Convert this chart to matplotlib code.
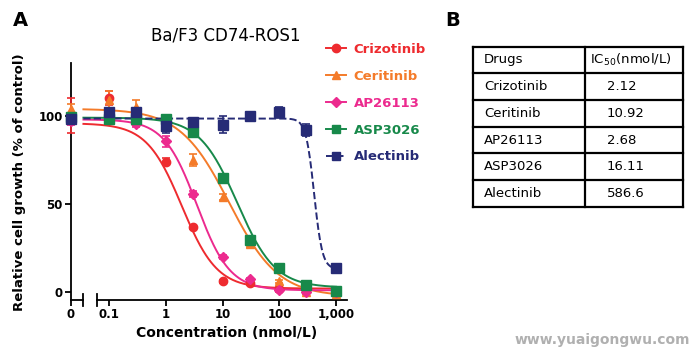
import numpy as np
import matplotlib
matplotlib.use('Agg')
import matplotlib.pyplot as plt
from matplotlib.lines import Line2D

plt.rcParams['font.family'] = ['DejaVu Sans']
plt.rcParams['mathtext.fontset'] = 'dejavusans'

# concentrations (nmol/L); first point is the untreated control (0)
conc = [0, 0.1, 0.3, 1, 3, 10, 30, 100, 300, 1000]

drugs = ['Crizotinib', 'Ceritinib', 'AP26113', 'ASP3026', 'Alectinib']
colors = ['#ee2b2f', '#f47b2a', '#ec2a8e', '#17894a', '#262b76']
markers = ['o', '^', 'D', 's', 's']

crizotinib = [100, 110, 97, 74, 37, 6, 5, 2, 1, 0]
ceritinib = [104, 109, 105, 95, 75, 54, 27, 6, 0, -1]
ap26113 = [97, 98, 95.5, 85.5, 55.7, 20, 7.2, 1, 0, 0]
asp3026 = [99.5, 98.5, 98.3, 98.3, 91, 64.6, 29.5, 13.4, 4, 0.8]
alectinib = [98, 102, 102, 94, 96.8, 95, 100, 102, 92, 13.8]

crizotinib_err = [10, 4, 2, 2, 1, 1, 1, 1, 1, 1]
ceritinib_err = [3, 5, 4, 2, 3.5, 1.5, 1.5, 1, 1, 1]
ap26113_err = [2, 2, 2, 3, 1.5, 1, 1, 1, 1, 1]
asp3026_err = [2, 1, 1, 1, 1.5, 1.5, 1.5, 1, 1, 1]
alectinib_err = [2, 2, 2, 4, 2, 5, 2, 3, 3.5, 1]

# fitted 4-parameter logistic curves: top, bottom, midpoint, hill slope
fit_top = [95.8, 104, 98, 99, 98.5]
fit_bottom = [2, -2.5, 1, 2.5, 13]
fit_mid = [1.9, 13, 3.5, 18, 410]
fit_hill = [1.4, 1.0, 1.5, 1.3, 6.0]

ic50 = ['2.12', '10.92', '2.68', '16.11', '586.6']

series = [crizotinib, ceritinib, ap26113, asp3026, alectinib]
errs = [crizotinib_err, ceritinib_err, ap26113_err, asp3026_err, alectinib_err]

W, H = 695, 351
fig = plt.figure(figsize=(W / 100, H / 100), dpi=100)

def box(x0, y0, x1, y1):
    return [x0 / W, 1 - y1 / H, (x1 - x0) / W, (y1 - y0) / H]

axL = fig.add_axes(box(71, 63, 83, 300))
axR = fig.add_axes(box(96.7, 63, 346.7, 300))
ylim = (-4.5, 130)

for ax in (axL, axR):
    ax.set_ylim(ylim)
    ax.spines['top'].set_visible(False)
    ax.spines['right'].set_visible(False)
    ax.spines['bottom'].set_linewidth(1.3)
    ax.spines['left'].set_linewidth(1.3)
    ax.patch.set_alpha(0)

axL.set_xlim(0, 1)
axL.set_xticks([0])
axL.set_xticklabels(['0'])
axL.set_yticks([0, 50, 100])
axL.set_yticklabels(['0', '50', '100'])
axL.tick_params(length=4, width=1.3, labelsize=8.5, pad=2)
for t in axL.get_xticklabels() + axL.get_yticklabels():
    t.set_fontweight('bold')

axR.set_xscale('log')
axR.set_xlim(0.06, 1538)
axR.spines['left'].set_visible(False)
axR.set_yticks([])
axR.set_xticks([0.1, 1, 10, 100, 1000])
axR.set_xticklabels(['0.1', '1', '10', '100', '1,000'])
axR.minorticks_off()
axR.tick_params(axis='x', length=4, width=1.3, labelsize=8.5, pad=2)
for t in axR.get_xticklabels():
    t.set_fontweight('bold')

# break marks
axL.plot([1, 1], [-0.025, 0.025], color='black', lw=1.3,
         transform=axL.get_xaxis_transform(), clip_on=False)
axR.plot([0.06, 0.06], [-0.025, 0.025], color='black', lw=1.3,
         transform=axR.get_xaxis_transform(), clip_on=False)

xs = np.logspace(np.log10(0.035), 3, 300)
for i in range(5):
    c = colors[i]
    ls = '--' if drugs[i] == 'Alectinib' else '-'
    ycurve = fit_bottom[i] + (fit_top[i] - fit_bottom[i]) / (1 + (xs / fit_mid[i]) ** fit_hill[i])
    axR.plot(xs, ycurve, color=c, lw=1.4, ls=ls, clip_on=False, zorder=2)
    ms = 6
    if markers[i] == 'D':
        ms = 5
    if markers[i] == 's':
        ms = 6.5
    axL.errorbar([0], series[i][:1], yerr=errs[i][:1], fmt=markers[i], color=c,
                 ms=ms, capsize=3, elinewidth=1.2, capthick=1.2, clip_on=False, zorder=3)
    axR.errorbar(conc[1:], series[i][1:], yerr=errs[i][1:], fmt=markers[i], color=c,
                 ms=ms, capsize=3, elinewidth=1.2, capthick=1.2, clip_on=False, zorder=3)

fig.text(20 / W, 1 - 182 / H, 'Relative cell growth (% of control)', rotation=90,
         ha='center', va='center', fontsize=9.5, fontweight='bold')
fig.text(227 / W, 1 - 333 / H, 'Concentration (nmol/L)', ha='center', va='center',
         fontsize=10, fontweight='bold')
fig.text(226 / W, 1 - 36 / H, 'Ba/F3 CD74-ROS1', ha='center', va='center', fontsize=12)
fig.text(13 / W, 1 - 20 / H, 'A', ha='left', va='center', fontsize=14, fontweight='bold')
fig.text(445 / W, 1 - 20 / H, 'B', ha='left', va='center', fontsize=14, fontweight='bold')

handles = []
for i in range(5):
    ls = '--' if drugs[i] == 'Alectinib' else '-'
    handles.append(Line2D([], [], color=colors[i], marker=markers[i], ls=ls, lw=1.4,
                          ms=6 if markers[i] != 'D' else 5))
leg = fig.legend(handles, drugs, loc='upper left', bbox_to_anchor=(326 / W, 1 - 43 / H),
                 frameon=False, borderpad=0, borderaxespad=0, handlelength=1.5,
                 handletextpad=0.6, labelspacing=1.05,
                 prop={'weight': 'bold', 'size': 9.5})
for txt, c in zip(leg.get_texts(), colors):
    txt.set_color(c)

# table B
axT = fig.add_axes([0, 0, 1, 1])
axT.set_xlim(0, W)
axT.set_ylim(H, 0)
axT.axis('off')
tx0, tx1, tdiv = 473.3, 683.3, 585
rows_y = [46.7, 73.3, 100, 126.7, 153.3, 180, 206.7]
for y in rows_y:
    axT.plot([tx0, tx1], [y, y], color='black', lw=1.6)
for x in (tx0, tdiv, tx1):
    axT.plot([x, x], [rows_y[0], rows_y[-1]], color='black', lw=1.6)
axT.text(484, (rows_y[0] + rows_y[1]) / 2, 'Drugs', va='center', fontsize=9.5)
axT.text(590, (rows_y[0] + rows_y[1]) / 2, r'IC$_{\mathrm{50}}$(nmol/L)', va='center', fontsize=9.5)
for k in range(5):
    yc = (rows_y[k + 1] + rows_y[k + 2]) / 2
    axT.text(484, yc, drugs[k], va='center', fontsize=9.5)
    axT.text(607, yc, ic50[k], va='center', fontsize=9.5)

fig.text(602 / W, 1 - 340 / H, 'www.yuaigongwu.com', ha='center', va='center',
         fontsize=10, fontweight='bold', color='#b0b0b0')

fig.savefig('out.png', dpi=100)
